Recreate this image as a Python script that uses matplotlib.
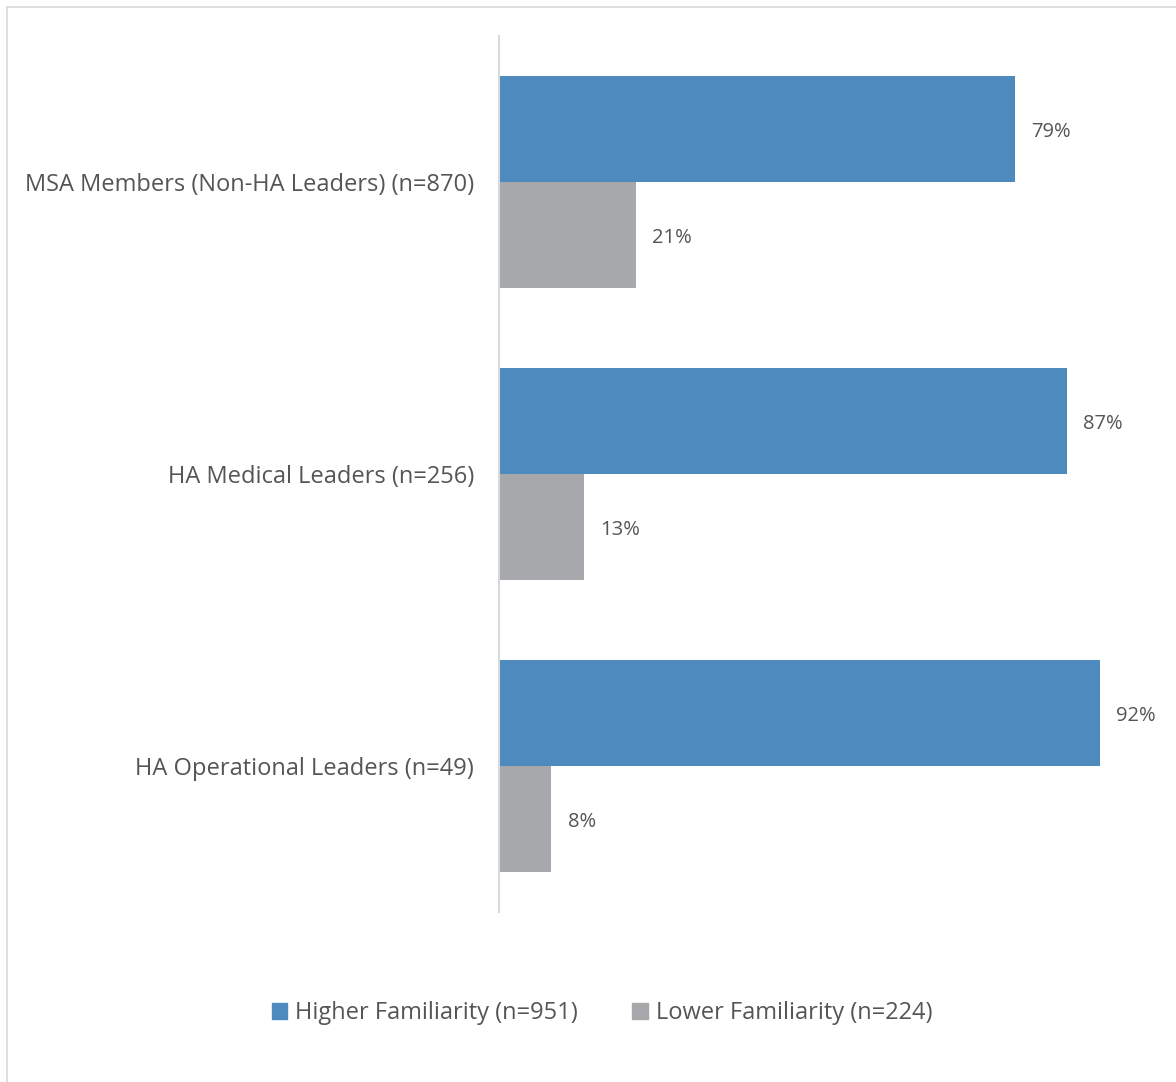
import matplotlib.pyplot as plt
from matplotlib.lines import Line2D
from matplotlib.patches import Patch

plt.rcParams['font.family'] = ['Open Sans', 'DejaVu Sans']

groups = ['MSA Members (Non-HA Leaders) (n=870)',
          'HA Medical Leaders (n=256)',
          'HA Operational Leaders (n=49)']
higher = [79, 87, 92]
lower = [21, 13, 8]
series_names = ['Higher Familiarity (n=951)', 'Lower Familiarity (n=224)']

blue = '#4F8ABE'
grey = '#A7A8AC'
text_col = '#555555'

W, H = 1176, 1082
fig = plt.figure(figsize=(W / 100, H / 100), dpi=100)
ax = fig.add_axes([499 / W, 1 - 912 / H, (1152 - 499) / W, (912 - 36) / H])

bh = 0.363
pos = list(range(len(groups)))
for i, (h, l) in enumerate(zip(higher, lower)):
    ax.barh(i - bh / 2, h, height=bh, color=blue)
    ax.barh(i + bh / 2, l, height=bh, color=grey)
    ax.text(h + 2.5, i - bh / 2 + 0.01, f'{h}%', va='center', ha='left',
            fontsize=14.5, color=text_col)
    ax.text(l + 2.5, i + bh / 2 + 0.01, f'{l}%', va='center', ha='left',
            fontsize=14.5, color=text_col)

ax.set_xlim(0, 100)
ax.set_ylim(len(groups) - 0.5, -0.5)
ax.set_yticks(pos)
ax.set_yticklabels(groups, fontsize=17, color=text_col)
ax.tick_params(axis='y', length=0, pad=18)
ax.set_xticks([])
for side in ['top', 'right', 'bottom']:
    ax.spines[side].set_visible(False)
ax.spines['left'].set_color('#D9D9D9')
ax.spines['left'].set_linewidth(1.5)

handles = [Patch(color=blue), Patch(color=grey)]
fig.legend(handles, series_names, loc='center', bbox_to_anchor=(602 / W, 1 - 1013 / H),
           ncol=2, frameon=False, fontsize=17, labelcolor=text_col,
           handlelength=0.65, handleheight=0.65, handletextpad=0.35, columnspacing=2.3)

# chart area border (top and left edges)
fig.add_artist(Line2D([7 / W, 1], [1 - 7 / H, 1 - 7 / H], color='#D9D9D9', lw=1.2))
fig.add_artist(Line2D([7 / W, 7 / W], [0, 1 - 7 / H], color='#D9D9D9', lw=1.2))

fig.savefig('out.png', dpi=100, facecolor='white')
